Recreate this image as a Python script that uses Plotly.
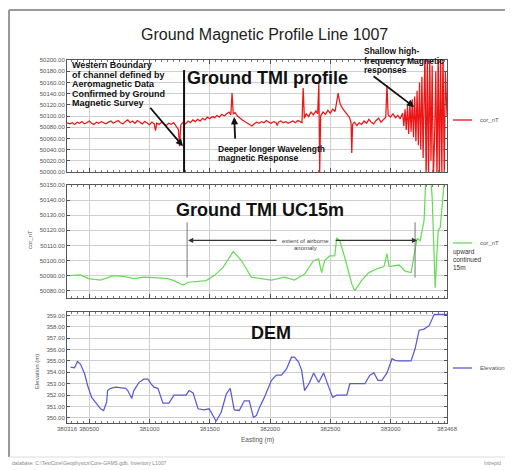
import plotly.graph_objects as go

# ---------------- data ----------------
easting_tmi = [380316, 380340, 380360, 380380, 380400, 380420, 380440, 380460, 380480, 380500,
               380520, 380540, 380560, 380580, 380600, 380620, 380640, 380660, 380680, 380700,
               380720, 380740, 380760, 380780, 380800, 380820, 380840, 380860, 380880, 380900,
               380920, 380940, 380960, 380980, 381000, 381020, 381040, 381050, 381060, 381080,
               381100, 381120, 381140, 381160, 381180, 381200, 381220, 381240, 381250, 381260,
               381280, 381300, 381320, 381340, 381360, 381380, 381400, 381420, 381440, 381460,
               381480, 381500, 381520, 381540, 381560, 381580, 381600, 381620, 381640, 381660,
               381675, 381685, 381695, 381710, 381730, 381750, 381770, 381790, 381810, 381830,
               381850, 381870, 381890, 381910, 381930, 381950, 381970, 381990, 382010, 382030,
               382050, 382060, 382070, 382090, 382110, 382130, 382150, 382170, 382190, 382210,
               382230, 382250, 382265, 382275, 382285, 382300, 382320, 382340, 382360, 382380,
               382395, 382405, 382412, 382420, 382440, 382460, 382480, 382500, 382520, 382540,
               382555, 382565, 382575, 382585, 382600, 382620, 382640, 382660, 382672, 382678,
               382685, 382700, 382720, 382740, 382760, 382780, 382800, 382820, 382840, 382860,
               382880, 382900, 382920, 382940, 382960, 382970, 382980, 383000, 383020, 383040,
               383060, 383080, 383100, 383110, 383120, 383130, 383140, 383150, 383160, 383170,
               383180, 383190, 383200, 383210, 383220, 383230, 383240, 383250, 383260, 383270,
               383285, 383295, 383305, 383315, 383325, 383335, 383345, 383355, 383365, 383375,
               383385, 383395, 383405, 383415, 383425, 383435, 383445, 383455, 383468]
tmi = [50088, 50086, 50088, 50085, 50089, 50087, 50090, 50086, 50088, 50091,
       50087, 50085, 50089, 50087, 50090, 50088, 50086, 50089, 50091, 50087,
       50089, 50092, 50088, 50086, 50090, 50093, 50088, 50091, 50087, 50092,
       50089, 50086, 50090, 50088, 50084, 50089, 50086, 50074, 50087, 50085,
       50089, 50086, 50083, 50087, 50085, 50088, 50082, 50076, 50046, 50084,
       50089, 50086, 50091, 50088, 50093, 50090, 50094, 50091, 50096, 50093,
       50098, 50095, 50099, 50097, 50101, 50098, 50103, 50100, 50104, 50107,
       50102, 50141, 50104, 50106, 50100, 50096, 50093, 50090, 50087, 50084,
       50082, 50086, 50089, 50087, 50090, 50088, 50092, 50089, 50087, 50090,
       50088, 50083, 50089, 50091, 50088, 50090, 50087, 50089, 50091, 50088,
       50092, 50090, 50088, 50150, 50096, 50104, 50099, 50107, 50102, 50109,
       50104, 50159, 50000, 50100, 50107, 50103, 50110, 50105, 50112, 50108,
       50130, 50141, 50128, 50120, 50114, 50108, 50101, 50097, 50088, 50034,
       50085, 50089, 50083, 50088, 50085, 50091, 50087, 50094, 50089, 50086,
       50092, 50096, 50089, 50093, 50098, 50155, 50102, 50098, 50104, 50097,
       50101, 50095, 50105, 50082, 50112, 50075, 50118, 50068, 50125, 50072,
       50130, 50062, 50135, 50055, 50145, 50048, 50160, 50040, 50170, 50025,
       50215, 49980, 50210, 49985, 50205, 50020, 50190, 49990, 50060, 50180,
       49985, 50215, 49980, 50210, 50000, 50220, 49990, 50180, 50100]

easting_uc = [380328, 380428, 380495, 380595, 380703, 380787, 380870, 380953, 381070, 381153,
              381203, 381278, 381320, 381403, 381470, 381537, 381612, 381695, 381762, 381845,
              381928, 382012, 382120, 382203, 382287, 382362, 382403, 382428, 382453, 382495,
              382537, 382553, 382578, 382620, 382678, 382703, 382762, 382820, 382903, 382945,
              382970, 382987, 383070, 383120, 383170, 383195, 383220, 383245, 383278, 383295,
              383320, 383345, 383370, 383395, 383412, 383453, 383468]
uc15 = [50090.0, 50090.5, 50088.0, 50087.0, 50090.0, 50089.5, 50088.0, 50089.0, 50088.5, 50088.0,
        50086.7, 50083.8, 50085.6, 50086.0, 50086.7, 50090.0, 50095.6, 50106.0, 50100.0, 50089.0,
        50087.8, 50087.0, 50089.0, 50087.0, 50091.0, 50100.0, 50101.0, 50092.0, 50100.0, 50103.0,
        50103.0, 50115.0, 50113.0, 50102.0, 50084.5, 50080.0, 50087.0, 50092.0, 50095.0, 50096.0,
        50104.5, 50096.0, 50097.0, 50093.0, 50092.0, 50104.5, 50114.7, 50113.0, 50126.7, 50160.0,
        50168.0, 50142.0, 50082.0, 50120.0, 50122.0, 50160.0, 50170.0]

easting_dem = [380345, 380378, 380403, 380428, 380462, 380487, 380520, 380562, 380595, 380620,
               380645, 380653, 380678, 380720, 380803, 380820, 380853, 380870, 380912, 380953,
               380987, 381012, 381037, 381070, 381095, 381112, 381162, 381203, 381262, 381303,
               381328, 381362, 381403, 381453, 381495, 381520, 381553, 381595, 381637, 381670,
               381703, 381745, 381787, 381828, 381862, 381887, 381912, 381953, 382012, 382053,
               382095, 382137, 382178, 382203, 382237, 382262, 382287, 382328, 382362, 382403,
               382445, 382487, 382520, 382553, 382637, 382662, 382787, 382828, 382862, 382895,
               382928, 382970, 383012, 383037, 383070, 383170, 383203, 383237, 383278, 383320,
               383362, 383403, 383468]
elevation = [354.45, 354.4, 354.95, 354.7, 353.87, 352.84, 351.8, 351.2, 350.8, 350.65,
             351.4, 352.4, 352.6, 352.7, 352.6, 352.4, 351.7, 352.4, 353.1, 353.4,
             353.4, 353.0, 352.7, 352.6, 351.8, 351.3, 351.3, 352.0, 352.0, 352.0,
             352.4, 352.2, 350.8, 350.7, 350.8, 350.35, 349.7, 350.5, 352.1, 352.6,
             350.7, 350.65, 351.5, 351.5, 350.05, 350.2, 350.9, 351.8, 353.3, 353.75,
             353.75, 354.3, 355.33, 355.33, 354.9, 354.2, 352.4, 353.1, 353.95, 353.1,
             353.95, 352.7, 351.8, 352.0, 352.0, 353.0, 353.0, 353.75, 353.95, 353.3,
             353.3, 353.95, 355.2, 355.05, 355.0, 355.0, 356.07, 357.7, 357.8, 358.1,
             359.1, 359.1, 359.1]

series_names = ["cor_nT", "cor_nT", "Elevation"]
series_colors = ["#ee1515", "#66dd55", "#5a5ad8"]

x_tickvals = [380316, 380500, 381000, 381500, 382000, 382500, 383000, 383468]
x_ticktext = [str(v) for v in x_tickvals]
y1_tickvals = [50000, 50020, 50040, 50060, 50080, 50100, 50120, 50140, 50160, 50180, 50200]
y2_tickvals = [50080, 50090, 50100, 50110, 50120, 50130, 50140, 50150]
y3_tickvals = [350, 351, 352, 353, 354, 355, 356, 357, 358, 359]

# ---------------- layout helpers ----------------
# The page body has an 8px margin, so the figure is drawn 8px in from the
# window's top-left corner; positions below are given in window pixels.
OFF = 8
W, H = 513 - OFF, 470 - OFF


def px(x):
    return (x - OFF) / W


def py(y):
    return 1 - (y - OFF) / H


FONT = "Liberation Sans, Arial, sans-serif"
XRANGE = [380316, 383468]
XDOM = [px(67), px(447)]

fig = go.Figure()
for xs, ys, name, color, xa, ya in [
    (easting_tmi, tmi, series_names[0], series_colors[0], "x", "y"),
    (easting_uc, uc15, series_names[1], series_colors[1], "x2", "y2"),
    (easting_dem, elevation, series_names[2], series_colors[2], "x3", "y3"),
]:
    fig.add_trace(go.Scatter(x=xs, y=ys, mode="lines", name=name, showlegend=False,
                             line=dict(color=color, width=1.25), xaxis=xa, yaxis=ya))


def xaxis(anchor, labels):
    return dict(domain=XDOM, range=XRANGE, anchor=anchor, automargin=False,
                tickmode="array", tickvals=x_tickvals, ticktext=x_ticktext,
                showticklabels=labels, tickangle=0,
                tickfont=dict(size=6, color="#555", family=FONT),
                showline=True, linecolor="#555", linewidth=1, mirror="allticks",
                ticks="inside", ticklen=4, tickcolor="#555",
                showgrid=True, gridcolor="#cfcfcf", gridwidth=1, zeroline=False,
                minor=dict(ticks="inside", ticklen=2, dtick=50, tick0=380000,
                           tickcolor="#777", showgrid=False))


def yaxis(anchor, dom, rng, vals):
    return dict(domain=dom, range=rng, anchor=anchor, automargin=False,
                tickmode="array", tickvals=vals, tickformat=".2f",
                tickfont=dict(size=6, color="#555", family=FONT),
                showline=True, linecolor="#555", linewidth=1, mirror="allticks",
                ticks="inside", ticklen=3, tickcolor="#555",
                showgrid=True, gridcolor="#cfcfcf", gridwidth=1, zeroline=False)


ann = []


def text(t, x, y, size, bold=False, color="#111", xanchor="left", angle=0):
    ann.append(dict(text=("<b>%s</b>" % t) if bold else t, xref="paper", yref="paper",
                    x=px(x), y=py(y), xanchor=xanchor, yanchor="middle", showarrow=False,
                    textangle=angle, font=dict(size=size, color=color, family=FONT)))


def lines(ls, x, y0, dy, size, bold=True, color="#111"):
    for i, t in enumerate(ls):
        text(t, x, y0 + i * dy, size, bold=bold, color=color)


# title
text("Ground Magnetic Profile Line 1007", 264, 35, 16, color="#222", xanchor="center")

# big panel labels
text("Ground TMI profile", 267, 78, 18, bold=True, xanchor="center")
text("Ground TMI UC15m", 260, 210, 18, bold=True, xanchor="center")
text("DEM", 271, 333, 18, bold=True, xanchor="center")

# explanatory notes
lines(["Western Boundary", "of channel defined by", "Aeromagnetic Data",
       "Confirmed by Ground", "Magnetic Survey"], 70, 65, 9.6, 9)
lines(["Deeper longer Wavelength", "magnetic Response"], 216, 148.5, 10, 8.5)
lines(["Shallow high-", "frequency Magnetic", "responses"], 362, 51, 9.7, 8.5)
lines(["extent of airborne", "anomaly"], 305, 240.5, 7, 6, bold=False, color="#444")
ann[-1]["xanchor"] = "center"
ann[-2]["xanchor"] = "center"
lines(["upward", "continued", "15m"], 451, 252, 7.5, 6.5, bold=False, color="#333")

# axis titles and footer
text("cor_nT", 30, 240, 6, color="#555", xanchor="center", angle=-90)
text("Elevation (m)", 37, 372, 6, color="#555", xanchor="center", angle=-90)
text("Easting (m)", 257, 440, 6.5, color="#555", xanchor="center")
text("database: C:\\TestCore\\Geophysics\\Core-GAMS.gdb, Inventory L1007", 10, 463, 5, color="#888")
text("Intrepid", 482, 463, 5, color="#888")


# arrows (head at data point, tail offset in pixels)
def arrow(xa, ya, x, y, ax, ay, w=1.8, color="#111"):
    ann.append(dict(text="", xref=xa, yref=ya, x=x, y=y, ax=ax, ay=ay,
                    axref="pixel", ayref="pixel", showarrow=True,
                    arrowhead=2, arrowsize=0.8, arrowwidth=w, arrowcolor=color))


arrow("x", "y", 381278, 50046, -34, -40)
arrow("x", "y", 381703, 50098, 1, 23)
arrow("x", "y", 383195, 50116, -42, -32)
arrow("x2", "y2", 381320, 50113.3, 90, 0, w=1.3, color="#333")
arrow("x2", "y2", 383220, 50113.3, -83, 0, w=1.3, color="#333")

FRAME = dict(color="#9a9a9a", width=2)
shapes = [
    # outer frame (left, top, bottom)
    dict(type="line", xref="paper", yref="paper", x0=px(9), x1=px(9), y0=py(457), y1=py(10),
         line=FRAME),
    dict(type="line", xref="paper", yref="paper", x0=px(9), x1=1, y0=py(10), y1=py(10),
         line=FRAME),
    dict(type="line", xref="paper", yref="paper", x0=px(9), x1=1, y0=py(457), y1=py(457),
         line=dict(color="#dddddd", width=1)),
    # western boundary marker
    dict(type="line", xref="x", yref="y", x0=381287, x1=381287, y0=50000, y1=50182,
         line=dict(color="#111", width=2)),
    # extent of airborne anomaly limits
    dict(type="line", xref="x2", yref="y2", x0=381312, x1=381312, y0=50088.7, y1=50125.3,
         line=dict(color="#777", width=1)),
    dict(type="line", xref="x2", yref="y2", x0=383203, x1=383203, y0=50088.7, y1=50125.3,
         line=dict(color="#777", width=1)),
]

# per-panel legend keys (line sample + label)
for name, color, ly in zip(series_names, series_colors, [120, 243, 368]):
    shapes.append(dict(type="line", xref="paper", yref="paper",
                       x0=px(453), x1=px(472), y0=py(ly), y1=py(ly),
                       line=dict(color=color, width=1.3)))
    text(name, 478, ly, 6, color="#555")

fig.update_layout(
    width=W, height=H, autosize=False, showlegend=False,
    margin=dict(l=0, r=0, t=0, b=0, autoexpand=False),
    paper_bgcolor="white", plot_bgcolor="white",
    xaxis=xaxis("y", False),
    xaxis2=xaxis("y2", False),
    xaxis3=xaxis("y3", True),
    yaxis=yaxis("x", [py(172), py(60)], [50000, 50200], y1_tickvals),
    yaxis2=yaxis("x2", [py(297.5), py(185)], [50075.5, 50150], y2_tickvals),
    yaxis3=yaxis("x3", [py(423), py(312)], [349.55, 359.3], y3_tickvals),
    annotations=ann, shapes=shapes,
)

fig.write_html("out.html")
